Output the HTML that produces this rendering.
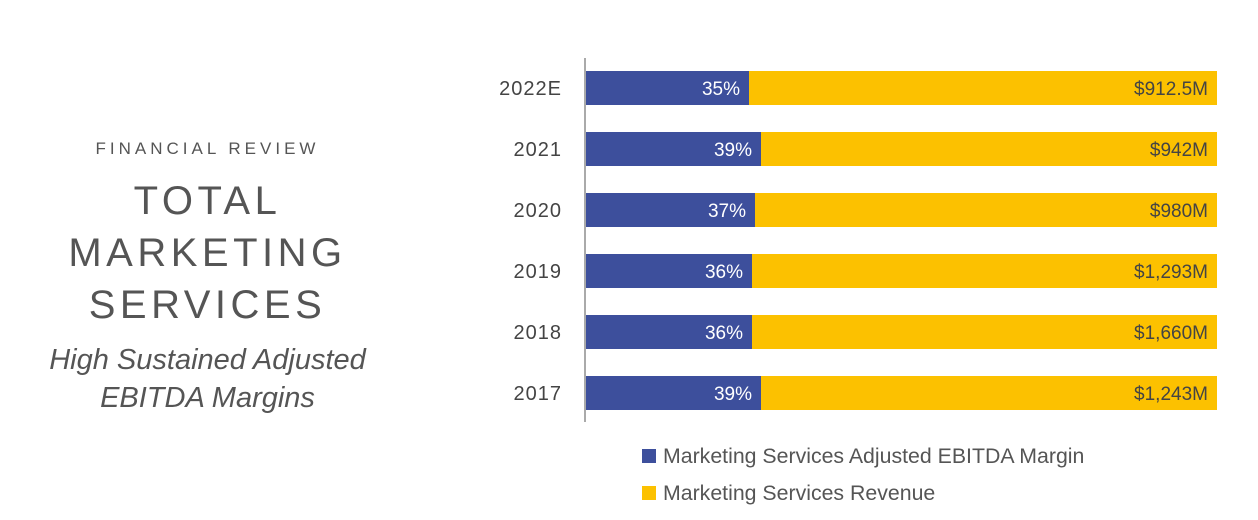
<!DOCTYPE html>
<html><head><meta charset="utf-8"><style>
body{margin:0;width:1258px;height:520px;background:#fff;font-family:"Liberation Sans",sans-serif;overflow:hidden;position:relative}
.t{position:absolute;color:#555;text-align:center;left:30px;width:355px}
</style></head><body>
<div class="t" style="top:139px;font-size:17px;letter-spacing:4px">FINANCIAL REVIEW</div>
<div class="t" style="top:175px;font-size:40px;letter-spacing:4.5px;line-height:52px">TOTAL<br>MARKETING<br>SERVICES</div>
<div class="t" style="top:341px;font-size:29px;font-style:italic;line-height:38px">High Sustained Adjusted<br>EBITDA Margins</div>
<svg id="c" width="1258" height="520" style="position:absolute;left:0;top:0"></svg>
<script>
const years=["2022E","2021","2020","2019","2018","2017"];
const margins=[35,39,37,36,36,39];
const revenueLabels=["$912.5M","$942M","$980M","$1,293M","$1,660M","$1,243M"];
const svg=document.getElementById('c');const NS="http://www.w3.org/2000/svg";
const x0=585,x1=1217;
function xScale(p){return 58+3*p;}
function y(i){return 71+i*61;}
function mk(t,a){const e=document.createElementNS(NS,t);for(const k in a)e.setAttribute(k,a[k]);svg.appendChild(e);return e;}
const ax=mk('line',{x1:x0,x2:x0,y1:58,y2:422,stroke:'#555','stroke-width':1});


years.forEach((yr,i)=>{
 const w=xScale(margins[i]);
 const r1=mk('rect',{x:x0+1,y:y(i),width:x1-x0-1,height:34,fill:'#fcc100'});
 
 
 const r2=mk('rect',{x:x0+1,y:y(i),width:w,height:34,fill:'#3d4f9c'});
 
 
 const t1=mk('text',{x:x0+w-8,y:y(i)+24,'text-anchor':'end','font-size':19,fill:'#fff','font-family':'Liberation Sans'});t1.textContent=margins[i]+'%';
 
 
 const t2=mk('text',{x:x1-9,y:y(i)+24,'text-anchor':'end','font-size':19,fill:'#444','font-family':'Liberation Sans'});t2.textContent=revenueLabels[i];
 
 
 const t3=mk('text',{x:562,y:y(i)+24,'text-anchor':'end','font-size':20,fill:'#444','letter-spacing':1,'font-family':'Liberation Sans'});t3.textContent=yr;
 
 
});
const leg=[["#3d4f9c","Marketing Services Adjusted EBITDA Margin",456],["#fcc100","Marketing Services Revenue",493]];
leg.forEach((l,i)=>{
 const s=mk('rect',{x:642,y:l[2]-7,width:14,height:14,fill:l[0]});
 
 
 const t=mk('text',{x:663,y:l[2]+7,'font-size':21.3,fill:'#555','font-family':'Liberation Sans'});t.textContent=l[1];
 
 
});
</script>
</body></html>
